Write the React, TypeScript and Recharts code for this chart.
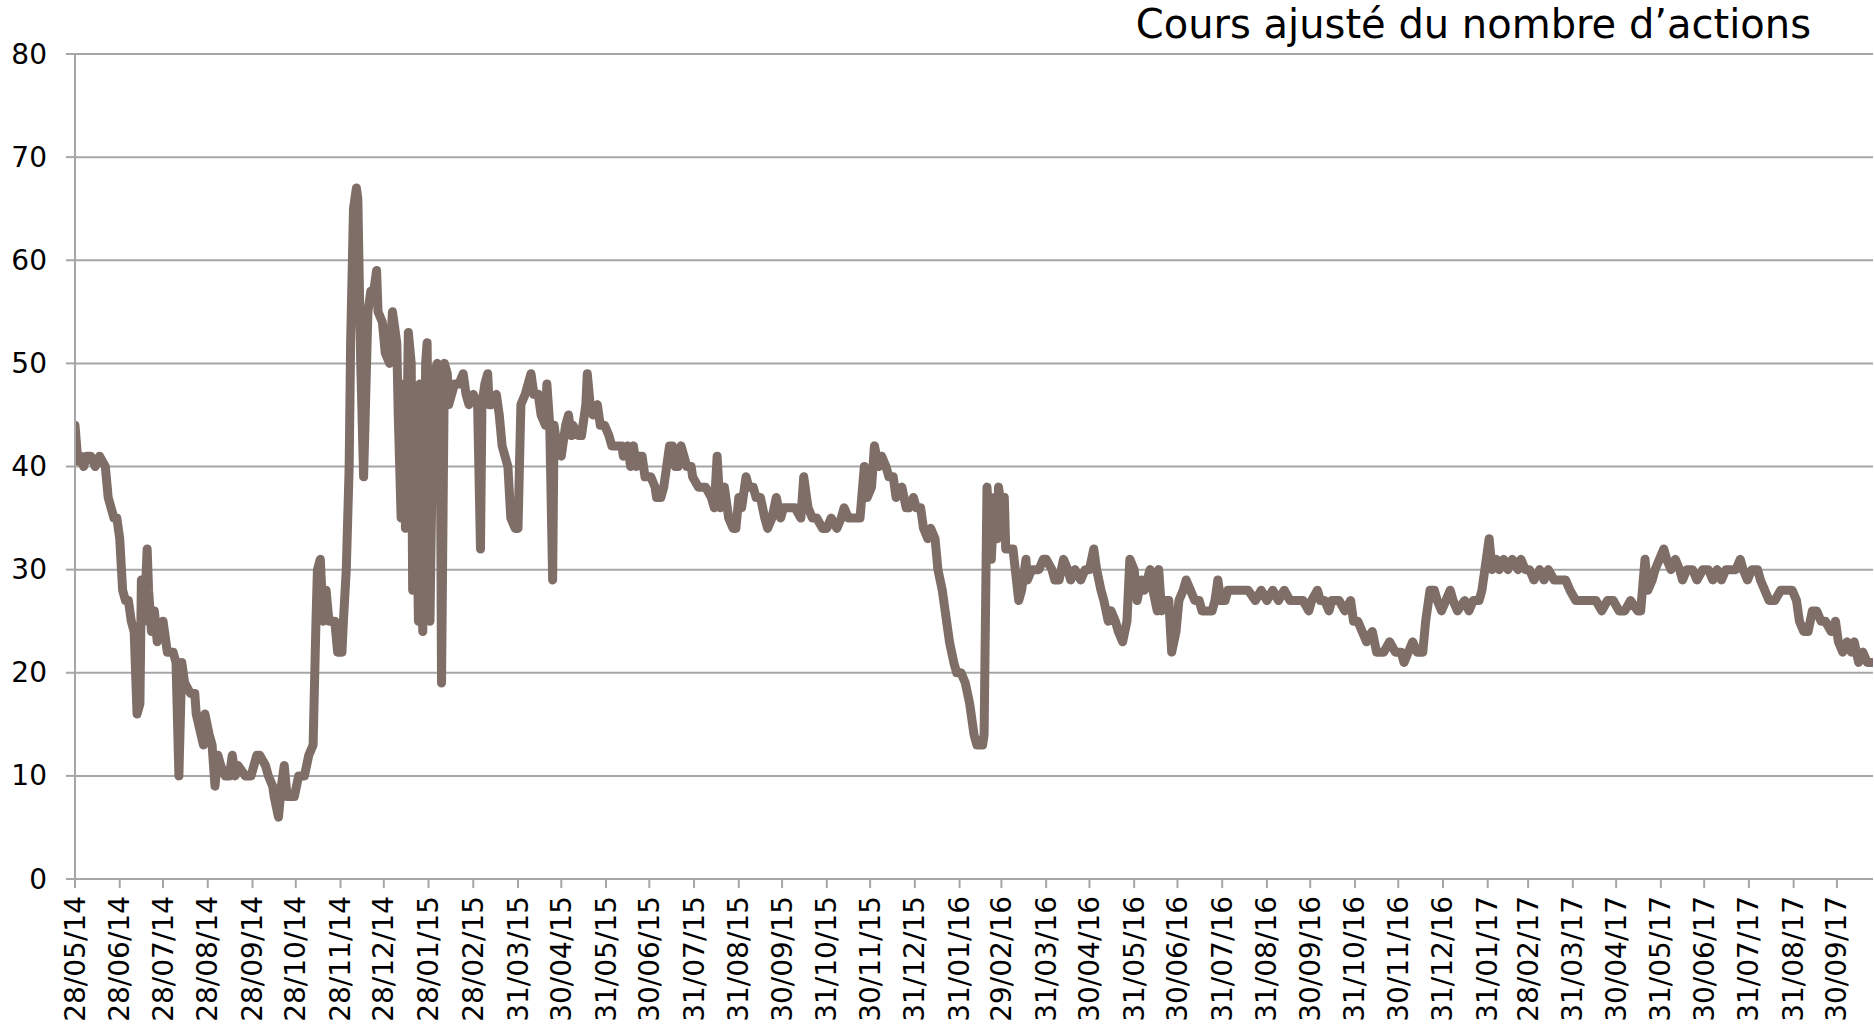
import React from "react";
import { LineChart, Line, XAxis, YAxis, CartesianGrid } from "recharts";

const startDate = "2014-05-28";
const endOffsetDays = 1246;

const tickLabels = [
  "28/05/14", "28/06/14", "28/07/14", "28/08/14", "28/09/14", "28/10/14", "28/11/14", "28/12/14",
  "28/01/15", "28/02/15", "31/03/15", "30/04/15", "31/05/15", "30/06/15", "31/07/15", "31/08/15",
  "30/09/15", "31/10/15", "30/11/15", "31/12/15", "31/01/16", "29/02/16", "31/03/16", "30/04/16",
  "31/05/16", "30/06/16", "31/07/16", "31/08/16", "30/09/16", "31/10/16", "30/11/16", "31/12/16",
  "31/01/17", "28/02/17", "31/03/17", "30/04/17", "31/05/17", "30/06/17", "31/07/17", "31/08/17",
  "30/09/17",
];

const yTicks = [0, 10, 20, 30, 40, 50, 60, 70, 80];

// days since 28/05/14
const dayOffsets = [
  0, 2, 4, 6, 8, 11, 14, 17, 21, 23, 27, 29, 31, 33, 35, 37, 39, 41, 43, 45, 46, 48, 50, 51, 53, 55, 57, 60, 61, 64,
  68, 70, 72, 74, 76, 80, 83, 84, 89, 90, 93, 95, 97, 99, 101, 104, 107, 109, 111, 113, 118, 122, 124, 126, 128, 132,
  134, 137, 138, 141, 143, 145, 147, 149, 152, 155, 159, 162, 165, 167, 168, 170, 172, 174, 176, 180, 182, 185, 186,
  188, 190, 191, 193, 195, 196, 198, 200, 203, 205, 206, 209, 210, 213, 215, 218, 220, 221, 223, 224, 226, 228, 229,
  231, 233, 234, 236, 238, 239, 241, 243, 244, 246, 248, 249, 251, 253, 254, 256, 258, 259, 261, 263, 266, 269, 271,
  273, 276, 279, 281, 282, 284, 286, 287, 289, 292, 294, 296, 298, 300, 302, 305, 307, 309, 312, 316, 318, 321, 323,
  326, 327, 329, 331, 332, 334, 337, 340, 342, 344, 345, 349, 351, 354, 355, 357, 359, 362, 364, 367, 370, 372, 374,
  379, 380, 383, 385, 387, 389, 391, 393, 395, 399, 402, 403, 406, 408, 410, 412, 414, 416, 418, 420, 422, 424, 427,
  428, 432, 437, 441, 443, 445, 447, 450, 451, 453, 456, 458, 460, 462, 465, 467, 470, 472, 475, 478, 480, 483, 486,
  489, 491, 495, 499, 503, 505, 508, 511, 514, 518, 521, 524, 528, 531, 533, 536, 540, 544, 547, 549, 552, 554, 557,
  559, 562, 564, 567, 569, 573, 576, 578, 581, 583, 586, 588, 591, 593, 596, 598, 601, 603, 606, 609, 611, 614, 617,
  620, 623, 625, 629, 630, 632, 635, 637, 639, 640, 642, 644, 645, 648, 650, 654, 656, 659, 660, 663, 665, 668, 671,
  673, 677, 679, 682, 685, 688, 690, 693, 697, 700, 703, 706, 708, 711, 713, 716, 718, 721, 723, 726, 729, 731, 734,
  736, 739, 741, 745, 747, 750, 751, 753, 755, 758, 760, 763, 765, 768, 770, 773, 776, 779, 781, 784, 788, 790, 792,
  794, 797, 799, 805, 813, 818, 822, 826, 830, 834, 838, 842, 847, 851, 855, 857, 861, 863, 866, 869, 871, 876, 880,
  884, 886, 889, 892, 895, 899, 902, 907, 911, 915, 919, 921, 924, 927, 930, 934, 936, 939, 942, 944, 947, 950, 953,
  955, 958, 963, 966, 969, 973, 975, 977, 980, 982, 985, 987, 990, 993, 996, 1000, 1002, 1005, 1008, 1011, 1015, 1018,
  1021, 1025, 1029, 1033, 1036, 1040, 1045, 1050, 1054, 1058, 1062, 1066, 1070, 1074, 1078, 1083, 1085, 1088, 1090,
  1093, 1095, 1098, 1101, 1103, 1106, 1109, 1112, 1114, 1117, 1121, 1124, 1128, 1132, 1135, 1138, 1141, 1144, 1147,
  1151, 1154, 1156, 1159, 1162, 1166, 1168, 1171, 1174, 1178, 1182, 1186, 1190, 1193, 1195, 1198, 1201, 1204, 1207,
  1210, 1213, 1217, 1220, 1222, 1225, 1228, 1231, 1233, 1236, 1239, 1242, 1245,
];

const prices = [
  44, 40.5, 41, 40, 41, 41, 40, 41, 40, 37, 35, 35, 33, 28, 27, 27, 25, 24, 16, 17, 29, 25, 32, 28, 24, 26, 23, 24, 25, 22,
  22, 21, 10, 21, 19, 18, 18, 16, 13, 16, 14, 13, 9, 12, 11, 10, 10, 12, 10, 11, 10, 10, 11, 12, 12, 11,
  10, 9, 8, 6, 9, 11, 8, 8, 8, 10, 10, 12, 13, 25, 30, 31, 25, 28, 25, 25, 22, 22, 25,
  30, 40, 52, 65, 67, 66, 50, 39, 55, 57, 56, 59, 55, 54, 51, 50, 55, 54, 52, 45, 35, 48, 34,
  53, 50, 28, 45, 25, 48, 24, 50, 52, 25, 45, 49, 50, 48, 19, 50, 49, 46, 47, 48, 48, 49, 47,
  46, 47, 46, 32, 46, 48, 49, 46, 46, 47, 45, 42, 41, 40, 35, 34, 34, 46, 47, 49, 47, 47, 45,
  44, 48, 44, 29, 44, 42, 41, 44, 45, 43, 44, 43, 43, 46, 49, 46, 45, 46, 44, 44, 43, 42, 42,
  42, 41, 42, 40, 42, 40, 41, 41, 39, 39, 38, 37, 37, 38, 40, 42, 42, 40, 40, 42, 41, 40, 40,
  39, 38, 38, 37, 36, 41, 36, 38, 37, 35, 34, 34, 37, 36, 39, 38, 38, 37, 37, 35, 34, 35, 37,
  35, 36, 36, 36, 35, 39, 36, 35, 35, 34, 34, 35, 34, 35, 36, 35, 35, 35, 40, 37, 38, 42, 40,
  41, 40, 39, 39, 37, 38, 36, 36, 37, 36, 36, 34, 33, 34, 33, 30, 28, 26, 23, 21, 20, 20, 19,
  17, 14, 13, 13, 14, 38, 31, 37, 33, 38, 36, 37, 32, 32, 32, 27, 28, 31, 29, 30, 30, 30, 31,
  31, 30, 29, 29, 31, 30, 29, 30, 29, 30, 30, 32, 30, 28, 27, 25, 26, 25, 24, 23, 25, 31, 30,
  27, 29, 28, 30, 28, 26, 30, 26, 27, 27, 22, 24, 27, 28, 29, 28, 27, 27, 26, 26, 26, 27, 29,
  27, 27, 28, 28, 28, 27, 28, 27, 28, 27, 28, 27, 27, 27, 26, 27, 28, 27, 27, 26, 27, 27, 26,
  27, 25, 25, 24, 23, 24, 22, 22, 23, 22, 22, 21, 22, 23, 22, 22, 25, 28, 28, 27, 26, 27, 28,
  27, 26, 27, 26, 27, 27, 28, 30, 33, 30, 31, 30, 31, 30, 31, 30, 31, 30, 30, 29, 30, 29,
  30, 29, 29, 29, 28, 27, 27, 27, 27, 26, 27, 27, 26, 26, 27, 26, 26, 31, 28,
  29, 30, 31, 32, 31, 30, 31, 30, 29, 30, 30, 29, 30, 30, 29, 30, 29, 30, 30,
  30, 31, 30, 29, 30, 30, 29, 28, 27, 27, 28, 28, 28, 27, 25, 24, 24, 26, 26,
  25, 25, 24, 25, 23, 22, 23, 22, 23, 21, 22, 21, 21,
];

const DAY = 86400000;
const startTs = Date.parse(startDate + "T00:00:00Z");
const endTs = startTs + endOffsetDays * DAY;

const parseLabel = (s: string) => {
  const [d, m, y] = s.split("/").map((v) => parseInt(v, 10));
  return Date.UTC(2000 + y, m - 1, d);
};

const tickValues = tickLabels.map(parseLabel);
const labelByTs: Record<number, string> = {};
tickValues.forEach((t, i) => {
  labelByTs[t] = tickLabels[i];
});

const data = dayOffsets.map((d, i) => ({ t: startTs + d * DAY, v: prices[i] }));

const FONT = "'DejaVu Sans', sans-serif";
const GRID = "#a6a6a6";
const LINE = "#7e6e67";

const XTick = (props: any) => {
  const { x, payload } = props;
  const y = 896;
  return (
    <text
      x={x}
      y={y}
      transform={`rotate(-90 ${x} ${y})`}
      textAnchor="end"
      dominantBaseline="central"
      fontFamily={FONT}
      fontSize={28}
      fill="#000"
    >
      {labelByTs[payload.value]}
    </text>
  );
};

const YTick = (props: any) => {
  const { y, payload } = props;
  return (
    <text x={47} y={y} textAnchor="end" dominantBaseline="central" fontFamily={FONT} fontSize={28} fill="#000">
      {payload.value}
    </text>
  );
};

export default function App() {
  return (
    <div style={{ position: "absolute", left: 0, top: 0, width: 1874, height: 1027, background: "#fff" }}>
      <LineChart
        width={1874}
        height={1027}
        data={data}
        margin={{ top: 54, right: 1, left: 0, bottom: 0 }}
      >
        <CartesianGrid vertical={false} stroke={GRID} strokeWidth={2} />
        <XAxis
          dataKey="t"
          type="number"
          domain={[startTs, endTs]}
          ticks={tickValues}
          interval={0}
          height={148}
          axisLine={{ stroke: GRID, strokeWidth: 2 }}
          tickLine={{ stroke: GRID, strokeWidth: 2 }}
          tickSize={9}
          tick={<XTick />}
          allowDataOverflow
        />
        <YAxis
          type="number"
          domain={[0, 80]}
          ticks={yTicks}
          interval={0}
          width={75}
          axisLine={{ stroke: GRID, strokeWidth: 2 }}
          tickLine={{ stroke: GRID, strokeWidth: 2 }}
          tickSize={9}
          tick={<YTick />}
        />
        <Line
          type="linear"
          dataKey="v"
          stroke={LINE}
          strokeWidth={9}
          strokeLinejoin="round"
          strokeLinecap="round"
          dot={false}
          activeDot={false}
          isAnimationActive={false}
        />
        <text x={1811} y={38} textAnchor="end" fontFamily={FONT} fontSize={40} fill="#000">
          Cours ajusté du nombre d’actions
        </text>
      </LineChart>
    </div>
  );
}
